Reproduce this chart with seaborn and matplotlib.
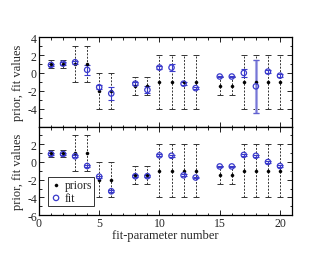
import matplotlib
matplotlib.use("Agg")
import matplotlib.pyplot as plt
import seaborn as sns
import pandas as pd
from matplotlib.ticker import MultipleLocator

param = [1, 2, 3, 4, 5, 6, 8, 9, 10, 11, 12, 13, 15, 16, 17, 18, 19, 20]
prior = [1, 1, 1, 1, -2, -2, -1.5, -1.5, -1, -1, -1, -1, -1.5, -1.5, -1, -1, -1, -1]
prior_err = [0.4, 0.4, 2, 2, 2, 2, 1, 1, 3, 3, 3, 3, 1, 1, 3, 3, 3, 3]
fit_top = [0.9, 1.05, 1.2, 0.35, -1.6, -2.3, -1.2, -1.9, 0.6, 0.6, -1.2, -1.7,
           -0.4, -0.4, 0.0, -1.5, 0.15, -0.3]
fit_top_err = [0.15, 0.15, 0.15, 0.55, 0.2, 0.7, 0.2, 0.4, 0.2, 0.4, 0.2, 0.15,
               0.1, 0.1, 0.45, 2.95, 0.15, 0.15]
fit_bot = [0.9, 0.9, 0.65, -0.45, -1.65, -3.3, -1.6, -1.6, 0.75, 0.7, -1.5, -1.75,
           -0.5, -0.5, 0.8, 0.7, 0.0, -0.45]
fit_bot_err = [0.1] * 18
top_yticks = [4, 2, 0, -2, -4]
bot_yticks = [2, 0, -2, -4, -6]
xticks = [0, 5, 10, 15, 20]

sns.set_theme(style="ticks")
plt.rcParams['font.family'] = ['Liberation Serif', 'DejaVu Serif']
plt.rcParams['axes.unicode_minus'] = False

BLUE = "#3a3acb"

fig = plt.figure(figsize=(3.3, 2.55), dpi=100)
ax1 = fig.add_axes([0.118, 0.5, 0.767, 0.35])
ax2 = fig.add_axes([0.118, 0.152, 0.767, 0.348])

def draw(ax, fit, fit_err, yt, legend):
    df = pd.DataFrame({"x": param, "prior": prior, "perr": prior_err,
                       "fit": fit, "ferr": fit_err})
    eb = ax.errorbar(df["x"], df["prior"], yerr=df["perr"], fmt="none",
                     ecolor="#333333", elinewidth=0.7, capsize=2.2, capthick=0.7,
                     zorder=1)
    for lc in eb[2]:
        lc.set_linestyle((0, (2, 1.5)))
    for i, r in df.iterrows():
        if r["ferr"] > 1:
            ax.errorbar([r["x"]], [r["fit"]], yerr=[r["ferr"]], fmt="none",
                        ecolor="#a9a9e6", elinewidth=2.2, capsize=2.5,
                        capthick=0.9, zorder=2)
            ax.errorbar([r["x"]], [r["fit"]], yerr=[r["ferr"]], fmt="none",
                        ecolor="#6060d0", elinewidth=0.5, capsize=2.5,
                        capthick=0.9, zorder=2)
        else:
            ax.errorbar([r["x"]], [r["fit"]], yerr=[r["ferr"]], fmt="none",
                        ecolor=BLUE, elinewidth=0.8, capsize=2.0,
                        capthick=0.8, zorder=2)
    sns.scatterplot(data=df, x="x", y="prior", ax=ax, color="black", s=5,
                    marker="o", edgecolor="black", linewidth=0.3, zorder=3,
                    label="priors" if legend else None)
    sns.scatterplot(data=df, x="x", y="fit", ax=ax, s=15, marker="o",
                    facecolor="none", edgecolor=BLUE, linewidth=0.9, zorder=4,
                    label="fit" if legend else None)
    ax.set_xlim(0, 21)
    ax.set_ylim(-6, 4)
    ax.xaxis.set_major_locator(MultipleLocator(5))
    ax.xaxis.set_minor_locator(MultipleLocator(1))
    ax.set_yticks(yt)
    ax.set_yticklabels([str(v) for v in yt])
    ax.yaxis.set_minor_locator(MultipleLocator(1))
    ax.tick_params(which="both", direction="in", top=True, right=True,
                   labelsize=8.5, pad=1.5, width=0.7, color="#222222")
    ax.tick_params(which="major", length=3.5)
    ax.tick_params(which="minor", length=1.8)
    for s in ax.spines.values():
        s.set_linewidth(0.9)
        s.set_color("black")
    ax.set_ylabel("prior, fit values", fontsize=9, labelpad=2)
    ax.set_xlabel("")

draw(ax1, fit_top, fit_top_err, top_yticks, False)
draw(ax2, fit_bot, fit_bot_err, bot_yticks, True)
ax1.set_xticklabels([])
ax2.set_xticks(xticks)
ax2.set_xticklabels([str(v) for v in xticks])
ax2.xaxis.set_minor_locator(MultipleLocator(1))
ax2.set_xlabel("fit-parameter number", fontsize=9, labelpad=0)

leg = ax2.legend(loc="lower left", bbox_to_anchor=(0.035, 0.1), fontsize=8.5,
                 frameon=True, fancybox=False, borderpad=0.2, handletextpad=0.2,
                 labelspacing=0.05, handlelength=1.0, borderaxespad=0)
leg.get_frame().set_edgecolor("black")
leg.get_frame().set_linewidth(0.7)

fig.savefig("out.png", dpi=100)
